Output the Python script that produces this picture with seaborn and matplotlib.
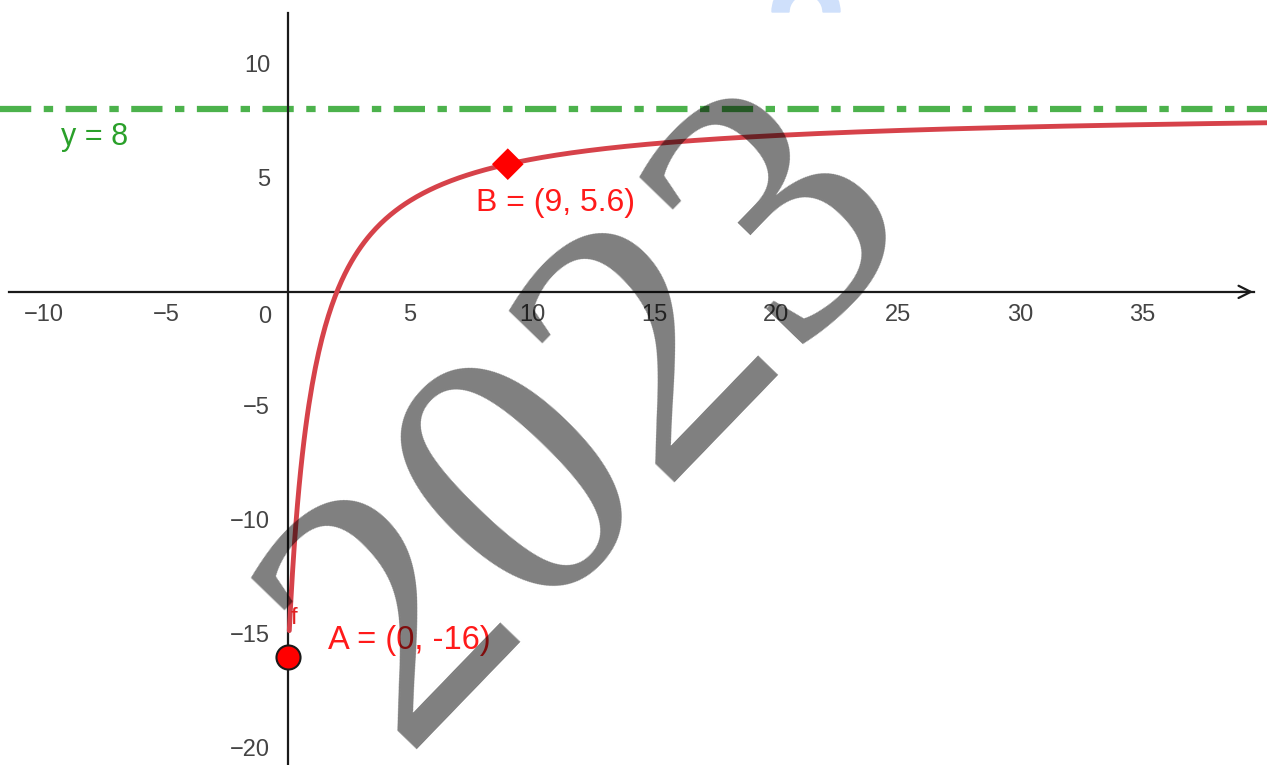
import numpy as np
import pandas as pd
import matplotlib
matplotlib.use("Agg")
import matplotlib.pyplot as plt
from matplotlib.patches import Wedge
from matplotlib.transforms import IdentityTransform
import seaborn as sns

# function f(x) = asymptote - k / (x + 1), fixed by A and B
asymptote = 8
k = 24
point_labels = ["A", "B"]
point_x = [0, 9]
point_y = [-16, 5.6]
x_ticks = [-10, -5, 5, 10, 15, 20, 25, 30, 35]
y_ticks = [-20, -15, -10, -5, 5, 10]
xlim = (-11.8, 40.1)
ylim = (-20.75, 12.8)

x_vals = np.linspace(0.05, xlim[1], 600)
curve = pd.DataFrame({"x": x_vals, "y": asymptote - k / (x_vals + 1)})
points = pd.DataFrame({"label": point_labels, "x": point_x, "y": point_y})

sns.set_theme(style="white")
plt.rcParams["font.family"] = ["Liberation Sans", "DejaVu Sans"]
plt.rcParams["axes.unicode_minus"] = True

fig = plt.figure(figsize=(12.67, 7.65), dpi=100)
ax = fig.add_axes([0, 0, 1, 1])

# asymptote
ax.axhline(asymptote, color="#4cb24c", lw=4.5, dashes=(5, 2, 1.5, 2), zorder=2)
ax.text(-9.3, 6.8, f"y = {asymptote}", color="#2aa02a", fontsize=22,
        ha="left", va="center")

# function graph
sns.lineplot(data=curve, x="x", y="y", color="#d6424a", lw=3.5, ax=ax,
             zorder=3, sort=False)
ax.text(0.1, -14.3, "f", color="#e02020", fontsize=17, ha="left", va="center")

# points A and B
a = points[points["label"] == "A"]
b = points[points["label"] == "B"]
sns.scatterplot(data=a, x="x", y="y", s=300, color="#ff0000",
                edgecolor="#1a1a1a", linewidth=1.5, ax=ax, zorder=5)
sns.scatterplot(data=b, x="x", y="y", marker="D", s=260, color="#ff0000",
                edgecolor="none", ax=ax, zorder=5)
for _, r in points.iterrows():
    if r["label"] == "A":
        ax.text(r["x"] + 1.65, r["y"] + 0.7, "A = (0, -16)", color="#ff1a1a",
                fontsize=23.5, ha="left", va="center", zorder=4)
    else:
        ax.text(r["x"] - 1.3, r["y"] - 1.7, "B = (9, 5.6)", color="#ff1a1a",
                fontsize=23, ha="left", va="center", zorder=4)

ax.set_xlim(*xlim)
ax.set_ylim(*ylim)
ax.set_xlabel("")
ax.set_ylabel("")

# axes through the origin, GeoGebra style
for side in ["top", "right"]:
    ax.spines[side].set_visible(False)
ax.spines["left"].set_position(("data", 0))
ax.spines["bottom"].set_position(("data", 0))
ax.spines["left"].set_bounds(ylim[0], 12.25)
ax.spines["bottom"].set_bounds(-11.45, 39.55)
for side in ["left", "bottom"]:
    ax.spines[side].set_color("#1a1a1a")
    ax.spines[side].set_linewidth(1.6)
ax.annotate("", xy=(39.65, 0), xytext=(38.9, 0),
            arrowprops=dict(arrowstyle="->", lw=1.6, color="#1a1a1a",
                            mutation_scale=22))

ax.set_xticks(x_ticks)
ax.set_yticks(y_ticks)
ax.tick_params(axis="both", direction="out", length=5, width=1.2,
               colors="#1a1a1a", labelsize=17, labelcolor="#444444")
ax.tick_params(axis="x", pad=4)
ax.tick_params(axis="y", pad=8)
ax.annotate("0", xy=(0, 0), xytext=(-17, -10), textcoords="offset points",
            fontsize=17, color="#444444", ha="center", va="top")

# watermarks
ax.text(12.6, -5.6, "2023", fontsize=268, family="Liberation Serif",
        color="black", alpha=0.5, rotation=46, ha="center", va="center",
        zorder=10)
fig.patches.append(Wedge((806, 753), 34, 0, 180, width=17, color="#cfe0fb",
                         transform=IdentityTransform(), zorder=1))

fig.savefig("out.png", dpi=100)
